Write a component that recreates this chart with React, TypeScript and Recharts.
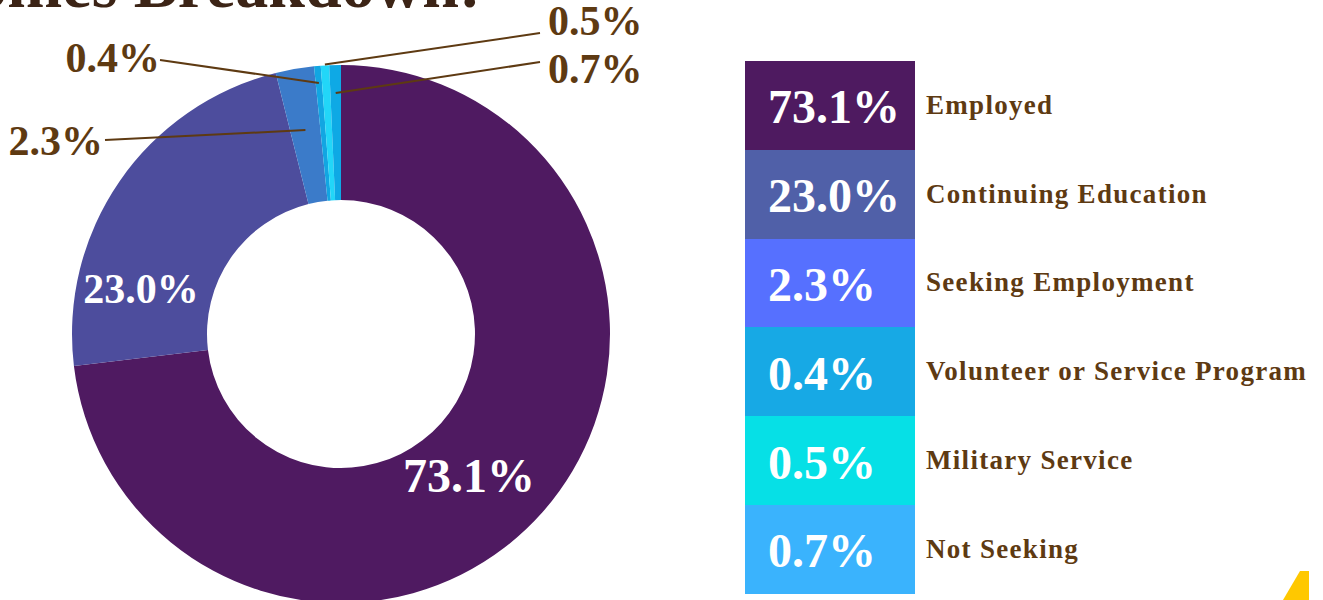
import { PieChart, Pie, Cell, Legend } from 'recharts';

const CATEGORIES = [
  'Employed',
  'Continuing Education',
  'Seeking Employment',
  'Volunteer or Service Program',
  'Military Service',
  'Not Seeking',
];
const SHARES = [73.1, 23.0, 2.3, 0.4, 0.5, 0.7];

const SLICE_COLORS = ['#4f1a61', '#4d4d9d', '#3b7bc9', '#12a6e2', '#22d6f8', '#0ea9e5'];
const LEGEND_COLORS = ['#4e1a60', '#5060a8', '#5670ff', '#17a9e5', '#06e0e6', '#3ab3fd'];

const BROWN = '#5e3a12';
const SERIF = '"Liberation Serif", "Times New Roman", serif';
const RAD = Math.PI / 180;

// label placement relative to the pie centre (big slices inside, small ones with a leader line)
const LABEL_LAYOUT = [
  { inside: true, dx: 128, dy: 158, size: 48, anchor: 'middle' },
  { inside: true, dx: -200, dy: -31, size: 42, anchor: 'middle' },
  { dx: -238, dy: -179, size: 42, anchor: 'end', lx: -236, ly: -194, r: 207 },
  { dx: -181, dy: -262, size: 42, anchor: 'end', lx: -181, ly: -274, r: 252 },
  { dx: 207, dy: -299, size: 42, anchor: 'start', lx: 199, ly: -301, r: 270 },
  { dx: 207, dy: -251, size: 42, anchor: 'start', lx: 199, ly: -272, r: 241 },
];

const data = CATEGORIES.map((name, i) => ({ name, value: SHARES[i] }));

function renderLabel(props: any) {
  const { cx, cy, midAngle, index, value } = props;
  const l: any = LABEL_LAYOUT[index];
  const text = `${Number(value).toFixed(1)}%`;
  if (l.inside) {
    return (
      <text
        x={cx + l.dx}
        y={cy + l.dy}
        textAnchor="middle"
        fill="#fff"
        fontFamily={SERIF}
        fontWeight="bold"
        fontSize={l.size}
      >
        {text}
      </text>
    );
  }
  const px = cx + l.r * Math.cos(-midAngle * RAD);
  const py = cy + l.r * Math.sin(-midAngle * RAD);
  return (
    <g>
      <line x1={cx + l.lx} y1={cy + l.ly} x2={px} y2={py} stroke={BROWN} strokeWidth={2} />
      <text
        x={cx + l.dx}
        y={cy + l.dy}
        textAnchor={l.anchor}
        fill={BROWN}
        fontFamily={SERIF}
        fontWeight="bold"
        fontSize={l.size}
      >
        {text}
      </text>
    </g>
  );
}

function renderLegend() {
  return (
    <div style={{ width: 570 }}>
      {CATEGORIES.map((name, i) => (
        <div key={name} style={{ display: 'flex', alignItems: 'center', height: 88.8 }}>
          <div
            style={{
              width: 170,
              height: '100%',
              background: LEGEND_COLORS[i],
              display: 'flex',
              alignItems: 'center',
              boxSizing: 'border-box',
              paddingLeft: 23,
              paddingTop: 3,
              color: '#fff',
              fontFamily: SERIF,
              fontWeight: 'bold',
              fontSize: 48,
            }}
          >
            {SHARES[i].toFixed(1)}%
          </div>
          <div
            style={{
              marginLeft: 11,
              color: BROWN,
              fontFamily: SERIF,
              fontWeight: 'bold',
              fontSize: 27,
              letterSpacing: 1.3,
              whiteSpace: 'nowrap',
            }}
          >
            {name}
          </div>
        </div>
      ))}
    </div>
  );
}

export default function App() {
  return (
    <div style={{ position: 'absolute', left: 0, top: 0, width: 1323, height: 600, overflow: 'hidden', background: '#fff' }}>
      <PieChart width={1323} height={600} margin={{ top: 0, right: 0, bottom: 0, left: 0 }}>
        <Pie
          data={data}
          dataKey="value"
          nameKey="name"
          cx={341}
          cy={334}
          innerRadius={134}
          outerRadius={269}
          startAngle={90}
          endAngle={-270}
          stroke="none"
          label={renderLabel}
          labelLine={false}
          isAnimationActive={false}
        >
          {data.map((_, i) => (
            <Cell key={i} fill={SLICE_COLORS[i]} />
          ))}
        </Pie>
        <Legend
          layout="vertical"
          align="right"
          verticalAlign="top"
          content={renderLegend}
          wrapperStyle={{ left: 745, top: 61, width: 570 }}
        />
      </PieChart>
      <svg
        width={1323}
        height={600}
        style={{ position: 'absolute', left: 0, top: 0, pointerEvents: 'none' }}
      >
        <text x={481} y={7} textAnchor="end" fill="#3c2416" fontFamily={SERIF} fontWeight="bold" fontSize={66}>
          Outcomes Breakdown:
        </text>
        <polygon points="1300,571 1309,571 1309,600 1283,600" fill="#ffc800" />
      </svg>
    </div>
  );
}
